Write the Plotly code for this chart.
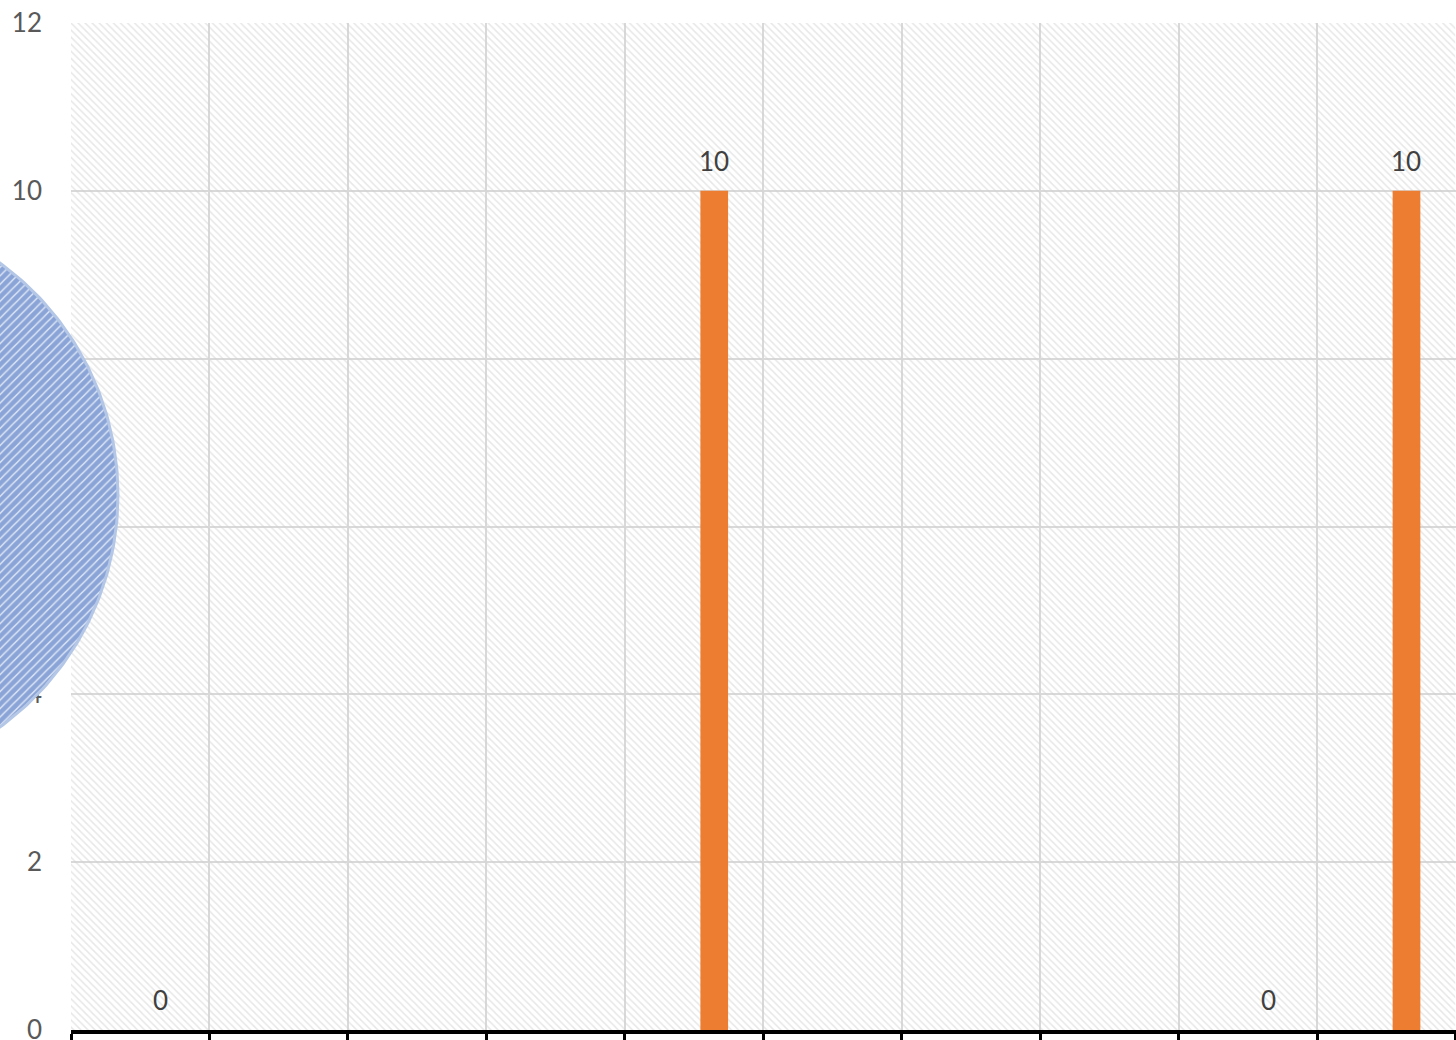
import numpy as np
import plotly.graph_objects as go

# ---- data ----
CATEGORIES = ["1", "2", "3", "4", "5", "6", "7", "8", "9", "10"]
VALUES = [0, None, None, None, 10, None, None, None, 0, 10]
Y_TICKS = [0, 2, 4, 6, 8, 10, 12]
Y_MAX = 12

# ---- geometry / style ----
W, H = 1456, 1040
PLOT_L, PLOT_R = 71, 1455.5
PLOT_TOP, PLOT_BOT = 23, 1030
BAR_OFFSET, BAR_WIDTH = 0.046, 0.2
ORANGE = "#ED7D31"
FONT = "Lato, 'Open Sans', sans-serif"

fig = go.Figure()

# hatched plot-area background (one full-width band per category)
fig.add_trace(go.Bar(
    x=CATEGORIES, y=[Y_MAX] * len(CATEGORIES),
    width=1, offset=-0.5,
    marker=dict(color="rgba(0,0,0,0)", line=dict(width=0),
                pattern=dict(shape="\\", fgcolor="#d0d0d0", bgcolor="rgba(0,0,0,0)",
                             size=5, solidity=0.3)),
    hoverinfo="skip", showlegend=False,
))

# data bars
fig.add_trace(go.Bar(
    x=CATEGORIES, y=VALUES,
    width=BAR_WIDTH, offset=BAR_OFFSET,
    marker=dict(color=ORANGE, line=dict(width=0)),
    showlegend=False,
))

# value labels
for i, v in enumerate(VALUES):
    if v is None:
        continue
    fig.add_annotation(
        x=i + BAR_OFFSET + BAR_WIDTH / 2, y=v, xref="x", yref="y",
        text=str(v), showarrow=False, yanchor="middle", yshift=30,
        font=dict(family=FONT, size=26, color="#404040"),
    )

# decorative hatched circle overlapping the left edge
CX, CY, R = -169, 495, 287
t = np.linspace(0, 2 * np.pi, 400)
fig.add_trace(go.Scatter(
    x=CX + R * np.cos(t), y=CY + R * np.sin(t),
    xaxis="x2", yaxis="y2", mode="lines", fill="toself",
    line=dict(color="#B4C7E7", width=3),
    fillcolor="#DAE3F3",
    fillpattern=dict(shape="/", fgcolor="#3A66BC", bgcolor="#DAE3F3",
                     size=6, solidity=0.75),
    hoverinfo="skip", showlegend=False,
))

fig.update_layout(
    width=W, height=H,
    margin=dict(l=0, r=0, t=0, b=0, autoexpand=False),
    paper_bgcolor="white", plot_bgcolor="rgba(0,0,0,0)",
    barmode="overlay",
    xaxis=dict(
        domain=[PLOT_L / W, PLOT_R / W], type="category", automargin=False,
        tickson="boundaries", showgrid=True, gridcolor="#d9d9d9", gridwidth=2,
        showline=True, linecolor="black", linewidth=4,
        ticks="outside", ticklen=14, tickwidth=3, tickcolor="black",
        showticklabels=False, anchor="y",
    ),
    yaxis=dict(
        domain=[(H - PLOT_BOT) / H, (H - PLOT_TOP) / H], automargin=False,
        range=[0, Y_MAX], tickvals=Y_TICKS,
        showgrid=True, gridcolor="#d9d9d9", gridwidth=2,
        zeroline=False, showline=False, ticks="",
        ticklabelstandoff=28, ticklabeloverflow="allow",
        tickfont=dict(family=FONT, size=26, color="#595959"),
        anchor="x",
    ),
    xaxis2=dict(domain=[0, 1], range=[0, W], visible=False, anchor="y2",
                fixedrange=True, automargin=False),
    yaxis2=dict(domain=[0, 1], range=[H, 0], visible=False, anchor="x2",
                fixedrange=True, automargin=False),
)

fig.write_html(
    "out.html",
    config={"displayModeBar": False},
    post_script="document.body.style.margin='0';document.body.style.overflow='hidden';",
)
